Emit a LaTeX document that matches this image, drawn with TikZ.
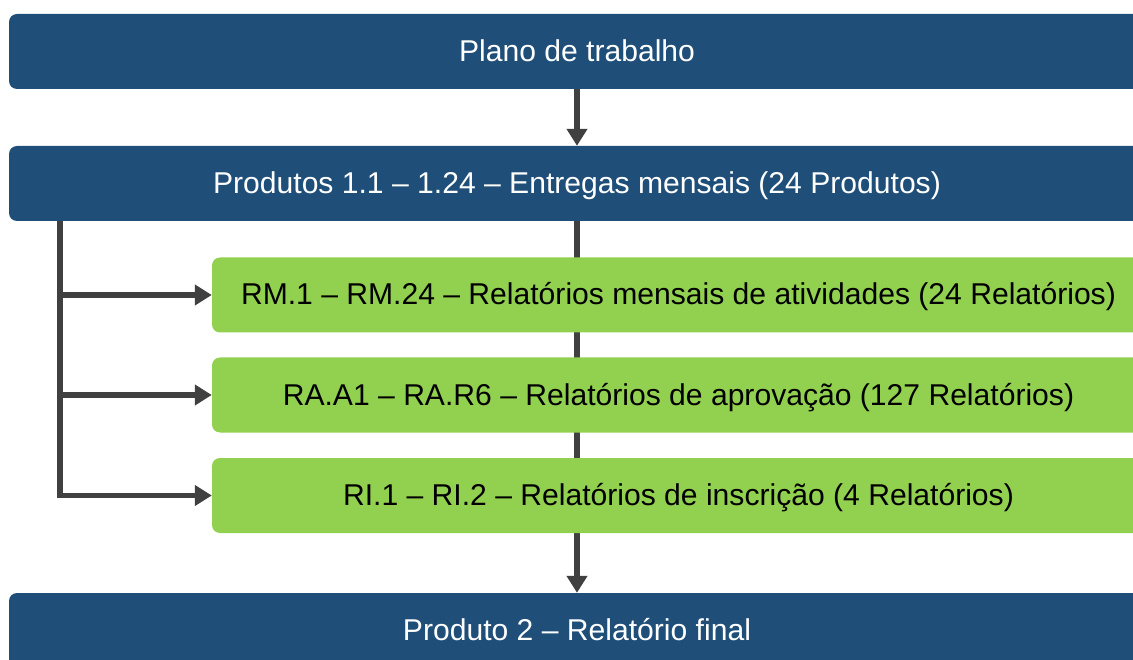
\documentclass[tikz,border=0pt]{standalone}
\usepackage{fontspec}
\setmainfont{Liberation Sans}
\usetikzlibrary{arrows.meta,backgrounds}
\definecolor{barblue}{RGB}{31,78,121}
\definecolor{boxgreen}{RGB}{146,208,80}
\definecolor{arrowgray}{RGB}{64,64,64}
\tikzset{
  boxbase/.style={draw=none, rounded corners=8pt, minimum height=75pt, inner sep=0pt, text height=24pt, text depth=4pt, font=\fontsize{30.1}{33}\selectfont},
  bluebar/.style={boxbase, fill=barblue, minimum width=1136pt, text=white},
  greenbox/.style={boxbase, fill=boxgreen, minimum width=933pt, text=black},
  conn/.style={draw=arrowgray, line width=5.5pt},
  tip/.style={-{Triangle[length=17pt,width=20pt]}}
}
\begin{document}
\begin{tikzpicture}[x=1pt,y=-1pt]
\useasboundingbox (0,0) rectangle (1133,660);
\node[bluebar] (top) at (577,51.5) {Plano de trabalho};
\node[bluebar] (second) at (577,183.5) {Produtos 1.1 – 1.24 – Entregas mensais (24 Produtos)};
\node[greenbox] (g1) at (678.5,295) {RM.1 – RM.24 – Relatórios mensais de atividades (24 Relatórios)};
\node[greenbox] (g2) at (678.5,395) {RA.A1 – RA.R6 – Relatórios de aprovação (127 Relatórios)};
\node[greenbox] (g3) at (678.5,495.5) {RI.1 – RI.2 – Relatórios de inscrição (4 Relatórios)};
\node[bluebar] (bottom) at (577,630.5) {Produto 2 – Relatório final};
\coordinate (trunk) at (60,220);
\draw[conn,tip] (top.south) -- (second.north);
\begin{pgfonlayer}{background}
\draw[conn,tip] (second.south) -- (bottom.north);
\end{pgfonlayer}
\draw[conn] (trunk |- second.south) -- (trunk |- g3.west) -- ([xshift=-15pt]g3.west);
\draw[conn,tip] (trunk |- g3.west) -- (g3.west);
\draw[conn,tip] (trunk |- g1.west) -- (g1.west);
\draw[conn,tip] (trunk |- g2.west) -- (g2.west);
\end{tikzpicture}
\end{document}
